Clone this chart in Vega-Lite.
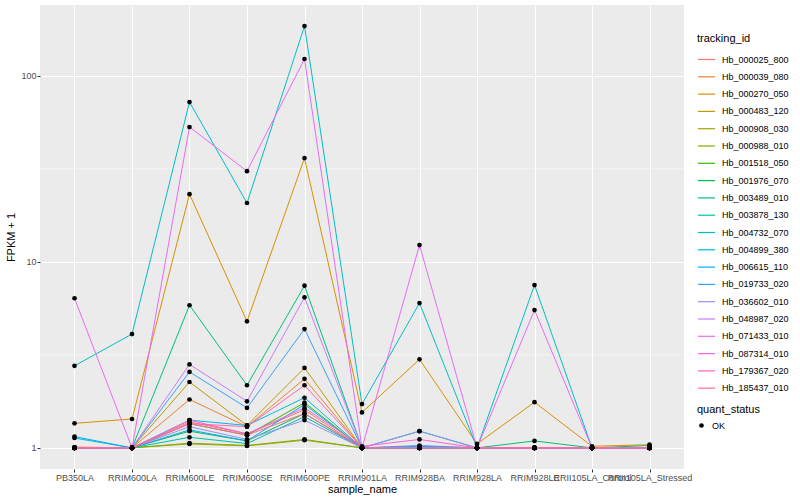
{
"$schema": "https://vega.github.io/schema/vega-lite/v6.json",
"width": 644, "height": 464,
"autosize": "none",
"padding": {"left": 40, "top": 5, "right": 116, "bottom": 31},
"datasets": {
"grid": [{"minor": 3.1623}, {"minor": 31.623}],
"expr": [
{"tracking_id":"Hb_000025_800","sample_name":"PB350LA","fpkm":1.0,"quant_status":"OK"},
{"tracking_id":"Hb_000025_800","sample_name":"RRIM600LA","fpkm":1.0,"quant_status":"OK"},
{"tracking_id":"Hb_000025_800","sample_name":"RRIM600LE","fpkm":1.38,"quant_status":"OK"},
{"tracking_id":"Hb_000025_800","sample_name":"RRIM600SE","fpkm":1.19,"quant_status":"OK"},
{"tracking_id":"Hb_000025_800","sample_name":"RRIM600PE","fpkm":1.6,"quant_status":"OK"},
{"tracking_id":"Hb_000025_800","sample_name":"RRIM901LA","fpkm":1.0,"quant_status":"OK"},
{"tracking_id":"Hb_000025_800","sample_name":"RRIM928BA","fpkm":1.0,"quant_status":"OK"},
{"tracking_id":"Hb_000025_800","sample_name":"RRIM928LA","fpkm":1.0,"quant_status":"OK"},
{"tracking_id":"Hb_000025_800","sample_name":"RRIM928LE","fpkm":1.0,"quant_status":"OK"},
{"tracking_id":"Hb_000025_800","sample_name":"RRII105LA_Control","fpkm":1.0,"quant_status":"OK"},
{"tracking_id":"Hb_000025_800","sample_name":"RRII105LA_Stressed","fpkm":1.0,"quant_status":"OK"},
{"tracking_id":"Hb_000039_080","sample_name":"PB350LA","fpkm":1.01,"quant_status":"OK"},
{"tracking_id":"Hb_000039_080","sample_name":"RRIM600LA","fpkm":1.0,"quant_status":"OK"},
{"tracking_id":"Hb_000039_080","sample_name":"RRIM600LE","fpkm":1.82,"quant_status":"OK"},
{"tracking_id":"Hb_000039_080","sample_name":"RRIM600SE","fpkm":1.3,"quant_status":"OK"},
{"tracking_id":"Hb_000039_080","sample_name":"RRIM600PE","fpkm":2.35,"quant_status":"OK"},
{"tracking_id":"Hb_000039_080","sample_name":"RRIM901LA","fpkm":1.0,"quant_status":"OK"},
{"tracking_id":"Hb_000039_080","sample_name":"RRIM928BA","fpkm":1.0,"quant_status":"OK"},
{"tracking_id":"Hb_000039_080","sample_name":"RRIM928LA","fpkm":1.0,"quant_status":"OK"},
{"tracking_id":"Hb_000039_080","sample_name":"RRIM928LE","fpkm":1.0,"quant_status":"OK"},
{"tracking_id":"Hb_000039_080","sample_name":"RRII105LA_Control","fpkm":1.0,"quant_status":"OK"},
{"tracking_id":"Hb_000039_080","sample_name":"RRII105LA_Stressed","fpkm":1.0,"quant_status":"OK"},
{"tracking_id":"Hb_000270_050","sample_name":"PB350LA","fpkm":1.355,"quant_status":"OK"},
{"tracking_id":"Hb_000270_050","sample_name":"RRIM600LA","fpkm":1.43,"quant_status":"OK"},
{"tracking_id":"Hb_000270_050","sample_name":"RRIM600LE","fpkm":23.1,"quant_status":"OK"},
{"tracking_id":"Hb_000270_050","sample_name":"RRIM600SE","fpkm":4.79,"quant_status":"OK"},
{"tracking_id":"Hb_000270_050","sample_name":"RRIM600PE","fpkm":36.1,"quant_status":"OK"},
{"tracking_id":"Hb_000270_050","sample_name":"RRIM901LA","fpkm":1.55,"quant_status":"OK"},
{"tracking_id":"Hb_000270_050","sample_name":"RRIM928BA","fpkm":2.99,"quant_status":"OK"},
{"tracking_id":"Hb_000270_050","sample_name":"RRIM928LA","fpkm":1.05,"quant_status":"OK"},
{"tracking_id":"Hb_000270_050","sample_name":"RRIM928LE","fpkm":1.76,"quant_status":"OK"},
{"tracking_id":"Hb_000270_050","sample_name":"RRII105LA_Control","fpkm":1.02,"quant_status":"OK"},
{"tracking_id":"Hb_000270_050","sample_name":"RRII105LA_Stressed","fpkm":1.04,"quant_status":"OK"},
{"tracking_id":"Hb_000483_120","sample_name":"PB350LA","fpkm":1.0,"quant_status":"OK"},
{"tracking_id":"Hb_000483_120","sample_name":"RRIM600LA","fpkm":1.0,"quant_status":"OK"},
{"tracking_id":"Hb_000483_120","sample_name":"RRIM600LE","fpkm":2.26,"quant_status":"OK"},
{"tracking_id":"Hb_000483_120","sample_name":"RRIM600SE","fpkm":1.32,"quant_status":"OK"},
{"tracking_id":"Hb_000483_120","sample_name":"RRIM600PE","fpkm":2.69,"quant_status":"OK"},
{"tracking_id":"Hb_000483_120","sample_name":"RRIM901LA","fpkm":1.0,"quant_status":"OK"},
{"tracking_id":"Hb_000483_120","sample_name":"RRIM928BA","fpkm":1.0,"quant_status":"OK"},
{"tracking_id":"Hb_000483_120","sample_name":"RRIM928LA","fpkm":1.0,"quant_status":"OK"},
{"tracking_id":"Hb_000483_120","sample_name":"RRIM928LE","fpkm":1.0,"quant_status":"OK"},
{"tracking_id":"Hb_000483_120","sample_name":"RRII105LA_Control","fpkm":1.0,"quant_status":"OK"},
{"tracking_id":"Hb_000483_120","sample_name":"RRII105LA_Stressed","fpkm":1.0,"quant_status":"OK"},
{"tracking_id":"Hb_000908_030","sample_name":"PB350LA","fpkm":1.0,"quant_status":"OK"},
{"tracking_id":"Hb_000908_030","sample_name":"RRIM600LA","fpkm":1.0,"quant_status":"OK"},
{"tracking_id":"Hb_000908_030","sample_name":"RRIM600LE","fpkm":1.05,"quant_status":"OK"},
{"tracking_id":"Hb_000908_030","sample_name":"RRIM600SE","fpkm":1.025,"quant_status":"OK"},
{"tracking_id":"Hb_000908_030","sample_name":"RRIM600PE","fpkm":1.1,"quant_status":"OK"},
{"tracking_id":"Hb_000908_030","sample_name":"RRIM901LA","fpkm":1.0,"quant_status":"OK"},
{"tracking_id":"Hb_000908_030","sample_name":"RRIM928BA","fpkm":1.0,"quant_status":"OK"},
{"tracking_id":"Hb_000908_030","sample_name":"RRIM928LA","fpkm":1.0,"quant_status":"OK"},
{"tracking_id":"Hb_000908_030","sample_name":"RRIM928LE","fpkm":1.0,"quant_status":"OK"},
{"tracking_id":"Hb_000908_030","sample_name":"RRII105LA_Control","fpkm":1.0,"quant_status":"OK"},
{"tracking_id":"Hb_000908_030","sample_name":"RRII105LA_Stressed","fpkm":1.0,"quant_status":"OK"},
{"tracking_id":"Hb_000988_010","sample_name":"PB350LA","fpkm":1.0,"quant_status":"OK"},
{"tracking_id":"Hb_000988_010","sample_name":"RRIM600LA","fpkm":1.0,"quant_status":"OK"},
{"tracking_id":"Hb_000988_010","sample_name":"RRIM600LE","fpkm":1.06,"quant_status":"OK"},
{"tracking_id":"Hb_000988_010","sample_name":"RRIM600SE","fpkm":1.03,"quant_status":"OK"},
{"tracking_id":"Hb_000988_010","sample_name":"RRIM600PE","fpkm":1.11,"quant_status":"OK"},
{"tracking_id":"Hb_000988_010","sample_name":"RRIM901LA","fpkm":1.0,"quant_status":"OK"},
{"tracking_id":"Hb_000988_010","sample_name":"RRIM928BA","fpkm":1.0,"quant_status":"OK"},
{"tracking_id":"Hb_000988_010","sample_name":"RRIM928LA","fpkm":1.0,"quant_status":"OK"},
{"tracking_id":"Hb_000988_010","sample_name":"RRIM928LE","fpkm":1.0,"quant_status":"OK"},
{"tracking_id":"Hb_000988_010","sample_name":"RRII105LA_Control","fpkm":1.0,"quant_status":"OK"},
{"tracking_id":"Hb_000988_010","sample_name":"RRII105LA_Stressed","fpkm":1.0,"quant_status":"OK"},
{"tracking_id":"Hb_001518_050","sample_name":"PB350LA","fpkm":1.0,"quant_status":"OK"},
{"tracking_id":"Hb_001518_050","sample_name":"RRIM600LA","fpkm":1.0,"quant_status":"OK"},
{"tracking_id":"Hb_001518_050","sample_name":"RRIM600LE","fpkm":1.35,"quant_status":"OK"},
{"tracking_id":"Hb_001518_050","sample_name":"RRIM600SE","fpkm":1.17,"quant_status":"OK"},
{"tracking_id":"Hb_001518_050","sample_name":"RRIM600PE","fpkm":1.75,"quant_status":"OK"},
{"tracking_id":"Hb_001518_050","sample_name":"RRIM901LA","fpkm":1.0,"quant_status":"OK"},
{"tracking_id":"Hb_001518_050","sample_name":"RRIM928BA","fpkm":1.0,"quant_status":"OK"},
{"tracking_id":"Hb_001518_050","sample_name":"RRIM928LA","fpkm":1.0,"quant_status":"OK"},
{"tracking_id":"Hb_001518_050","sample_name":"RRIM928LE","fpkm":1.0,"quant_status":"OK"},
{"tracking_id":"Hb_001518_050","sample_name":"RRII105LA_Control","fpkm":1.0,"quant_status":"OK"},
{"tracking_id":"Hb_001518_050","sample_name":"RRII105LA_Stressed","fpkm":1.0,"quant_status":"OK"},
{"tracking_id":"Hb_001976_070","sample_name":"PB350LA","fpkm":1.0,"quant_status":"OK"},
{"tracking_id":"Hb_001976_070","sample_name":"RRIM600LA","fpkm":1.0,"quant_status":"OK"},
{"tracking_id":"Hb_001976_070","sample_name":"RRIM600LE","fpkm":1.23,"quant_status":"OK"},
{"tracking_id":"Hb_001976_070","sample_name":"RRIM600SE","fpkm":1.09,"quant_status":"OK"},
{"tracking_id":"Hb_001976_070","sample_name":"RRIM600PE","fpkm":1.53,"quant_status":"OK"},
{"tracking_id":"Hb_001976_070","sample_name":"RRIM901LA","fpkm":1.0,"quant_status":"OK"},
{"tracking_id":"Hb_001976_070","sample_name":"RRIM928BA","fpkm":1.0,"quant_status":"OK"},
{"tracking_id":"Hb_001976_070","sample_name":"RRIM928LA","fpkm":1.0,"quant_status":"OK"},
{"tracking_id":"Hb_001976_070","sample_name":"RRIM928LE","fpkm":1.0,"quant_status":"OK"},
{"tracking_id":"Hb_001976_070","sample_name":"RRII105LA_Control","fpkm":1.0,"quant_status":"OK"},
{"tracking_id":"Hb_001976_070","sample_name":"RRII105LA_Stressed","fpkm":1.0,"quant_status":"OK"},
{"tracking_id":"Hb_003489_010","sample_name":"PB350LA","fpkm":1.0,"quant_status":"OK"},
{"tracking_id":"Hb_003489_010","sample_name":"RRIM600LA","fpkm":1.0,"quant_status":"OK"},
{"tracking_id":"Hb_003489_010","sample_name":"RRIM600LE","fpkm":5.84,"quant_status":"OK"},
{"tracking_id":"Hb_003489_010","sample_name":"RRIM600SE","fpkm":2.17,"quant_status":"OK"},
{"tracking_id":"Hb_003489_010","sample_name":"RRIM600PE","fpkm":7.44,"quant_status":"OK"},
{"tracking_id":"Hb_003489_010","sample_name":"RRIM901LA","fpkm":1.0,"quant_status":"OK"},
{"tracking_id":"Hb_003489_010","sample_name":"RRIM928BA","fpkm":1.23,"quant_status":"OK"},
{"tracking_id":"Hb_003489_010","sample_name":"RRIM928LA","fpkm":1.0,"quant_status":"OK"},
{"tracking_id":"Hb_003489_010","sample_name":"RRIM928LE","fpkm":1.09,"quant_status":"OK"},
{"tracking_id":"Hb_003489_010","sample_name":"RRII105LA_Control","fpkm":1.0,"quant_status":"OK"},
{"tracking_id":"Hb_003489_010","sample_name":"RRII105LA_Stressed","fpkm":1.03,"quant_status":"OK"},
{"tracking_id":"Hb_003878_130","sample_name":"PB350LA","fpkm":1.0,"quant_status":"OK"},
{"tracking_id":"Hb_003878_130","sample_name":"RRIM600LA","fpkm":1.0,"quant_status":"OK"},
{"tracking_id":"Hb_003878_130","sample_name":"RRIM600LE","fpkm":1.14,"quant_status":"OK"},
{"tracking_id":"Hb_003878_130","sample_name":"RRIM600SE","fpkm":1.055,"quant_status":"OK"},
{"tracking_id":"Hb_003878_130","sample_name":"RRIM600PE","fpkm":1.47,"quant_status":"OK"},
{"tracking_id":"Hb_003878_130","sample_name":"RRIM901LA","fpkm":1.0,"quant_status":"OK"},
{"tracking_id":"Hb_003878_130","sample_name":"RRIM928BA","fpkm":1.0,"quant_status":"OK"},
{"tracking_id":"Hb_003878_130","sample_name":"RRIM928LA","fpkm":1.0,"quant_status":"OK"},
{"tracking_id":"Hb_003878_130","sample_name":"RRIM928LE","fpkm":1.0,"quant_status":"OK"},
{"tracking_id":"Hb_003878_130","sample_name":"RRII105LA_Control","fpkm":1.0,"quant_status":"OK"},
{"tracking_id":"Hb_003878_130","sample_name":"RRII105LA_Stressed","fpkm":1.0,"quant_status":"OK"},
{"tracking_id":"Hb_004732_070","sample_name":"PB350LA","fpkm":2.76,"quant_status":"OK"},
{"tracking_id":"Hb_004732_070","sample_name":"RRIM600LA","fpkm":4.09,"quant_status":"OK"},
{"tracking_id":"Hb_004732_070","sample_name":"RRIM600LE","fpkm":72.2,"quant_status":"OK"},
{"tracking_id":"Hb_004732_070","sample_name":"RRIM600SE","fpkm":20.7,"quant_status":"OK"},
{"tracking_id":"Hb_004732_070","sample_name":"RRIM600PE","fpkm":185,"quant_status":"OK"},
{"tracking_id":"Hb_004732_070","sample_name":"RRIM901LA","fpkm":1.72,"quant_status":"OK"},
{"tracking_id":"Hb_004732_070","sample_name":"RRIM928BA","fpkm":6.0,"quant_status":"OK"},
{"tracking_id":"Hb_004732_070","sample_name":"RRIM928LA","fpkm":1.0,"quant_status":"OK"},
{"tracking_id":"Hb_004732_070","sample_name":"RRIM928LE","fpkm":7.5,"quant_status":"OK"},
{"tracking_id":"Hb_004732_070","sample_name":"RRII105LA_Control","fpkm":1.0,"quant_status":"OK"},
{"tracking_id":"Hb_004732_070","sample_name":"RRII105LA_Stressed","fpkm":1.0,"quant_status":"OK"},
{"tracking_id":"Hb_004899_380","sample_name":"PB350LA","fpkm":1.13,"quant_status":"OK"},
{"tracking_id":"Hb_004899_380","sample_name":"RRIM600LA","fpkm":1.0,"quant_status":"OK"},
{"tracking_id":"Hb_004899_380","sample_name":"RRIM600LE","fpkm":1.41,"quant_status":"OK"},
{"tracking_id":"Hb_004899_380","sample_name":"RRIM600SE","fpkm":1.32,"quant_status":"OK"},
{"tracking_id":"Hb_004899_380","sample_name":"RRIM600PE","fpkm":1.86,"quant_status":"OK"},
{"tracking_id":"Hb_004899_380","sample_name":"RRIM901LA","fpkm":1.0,"quant_status":"OK"},
{"tracking_id":"Hb_004899_380","sample_name":"RRIM928BA","fpkm":1.0,"quant_status":"OK"},
{"tracking_id":"Hb_004899_380","sample_name":"RRIM928LA","fpkm":1.0,"quant_status":"OK"},
{"tracking_id":"Hb_004899_380","sample_name":"RRIM928LE","fpkm":1.0,"quant_status":"OK"},
{"tracking_id":"Hb_004899_380","sample_name":"RRII105LA_Control","fpkm":1.0,"quant_status":"OK"},
{"tracking_id":"Hb_004899_380","sample_name":"RRII105LA_Stressed","fpkm":1.0,"quant_status":"OK"},
{"tracking_id":"Hb_006615_110","sample_name":"PB350LA","fpkm":1.15,"quant_status":"OK"},
{"tracking_id":"Hb_006615_110","sample_name":"RRIM600LA","fpkm":1.0,"quant_status":"OK"},
{"tracking_id":"Hb_006615_110","sample_name":"RRIM600LE","fpkm":1.25,"quant_status":"OK"},
{"tracking_id":"Hb_006615_110","sample_name":"RRIM600SE","fpkm":1.09,"quant_status":"OK"},
{"tracking_id":"Hb_006615_110","sample_name":"RRIM600PE","fpkm":1.71,"quant_status":"OK"},
{"tracking_id":"Hb_006615_110","sample_name":"RRIM901LA","fpkm":1.0,"quant_status":"OK"},
{"tracking_id":"Hb_006615_110","sample_name":"RRIM928BA","fpkm":1.02,"quant_status":"OK"},
{"tracking_id":"Hb_006615_110","sample_name":"RRIM928LA","fpkm":1.0,"quant_status":"OK"},
{"tracking_id":"Hb_006615_110","sample_name":"RRIM928LE","fpkm":1.0,"quant_status":"OK"},
{"tracking_id":"Hb_006615_110","sample_name":"RRII105LA_Control","fpkm":1.0,"quant_status":"OK"},
{"tracking_id":"Hb_006615_110","sample_name":"RRII105LA_Stressed","fpkm":1.0,"quant_status":"OK"},
{"tracking_id":"Hb_019733_020","sample_name":"PB350LA","fpkm":1.0,"quant_status":"OK"},
{"tracking_id":"Hb_019733_020","sample_name":"RRIM600LA","fpkm":1.0,"quant_status":"OK"},
{"tracking_id":"Hb_019733_020","sample_name":"RRIM600LE","fpkm":2.56,"quant_status":"OK"},
{"tracking_id":"Hb_019733_020","sample_name":"RRIM600SE","fpkm":1.64,"quant_status":"OK"},
{"tracking_id":"Hb_019733_020","sample_name":"RRIM600PE","fpkm":4.35,"quant_status":"OK"},
{"tracking_id":"Hb_019733_020","sample_name":"RRIM901LA","fpkm":1.0,"quant_status":"OK"},
{"tracking_id":"Hb_019733_020","sample_name":"RRIM928BA","fpkm":1.03,"quant_status":"OK"},
{"tracking_id":"Hb_019733_020","sample_name":"RRIM928LA","fpkm":1.0,"quant_status":"OK"},
{"tracking_id":"Hb_019733_020","sample_name":"RRIM928LE","fpkm":1.0,"quant_status":"OK"},
{"tracking_id":"Hb_019733_020","sample_name":"RRII105LA_Control","fpkm":1.0,"quant_status":"OK"},
{"tracking_id":"Hb_019733_020","sample_name":"RRII105LA_Stressed","fpkm":1.0,"quant_status":"OK"},
{"tracking_id":"Hb_036602_010","sample_name":"PB350LA","fpkm":1.0,"quant_status":"OK"},
{"tracking_id":"Hb_036602_010","sample_name":"RRIM600LA","fpkm":1.0,"quant_status":"OK"},
{"tracking_id":"Hb_036602_010","sample_name":"RRIM600LE","fpkm":1.3,"quant_status":"OK"},
{"tracking_id":"Hb_036602_010","sample_name":"RRIM600SE","fpkm":1.11,"quant_status":"OK"},
{"tracking_id":"Hb_036602_010","sample_name":"RRIM600PE","fpkm":1.41,"quant_status":"OK"},
{"tracking_id":"Hb_036602_010","sample_name":"RRIM901LA","fpkm":1.0,"quant_status":"OK"},
{"tracking_id":"Hb_036602_010","sample_name":"RRIM928BA","fpkm":1.23,"quant_status":"OK"},
{"tracking_id":"Hb_036602_010","sample_name":"RRIM928LA","fpkm":1.0,"quant_status":"OK"},
{"tracking_id":"Hb_036602_010","sample_name":"RRIM928LE","fpkm":1.0,"quant_status":"OK"},
{"tracking_id":"Hb_036602_010","sample_name":"RRII105LA_Control","fpkm":1.0,"quant_status":"OK"},
{"tracking_id":"Hb_036602_010","sample_name":"RRII105LA_Stressed","fpkm":1.0,"quant_status":"OK"},
{"tracking_id":"Hb_048987_020","sample_name":"PB350LA","fpkm":1.0,"quant_status":"OK"},
{"tracking_id":"Hb_048987_020","sample_name":"RRIM600LA","fpkm":1.0,"quant_status":"OK"},
{"tracking_id":"Hb_048987_020","sample_name":"RRIM600LE","fpkm":2.81,"quant_status":"OK"},
{"tracking_id":"Hb_048987_020","sample_name":"RRIM600SE","fpkm":1.78,"quant_status":"OK"},
{"tracking_id":"Hb_048987_020","sample_name":"RRIM600PE","fpkm":6.44,"quant_status":"OK"},
{"tracking_id":"Hb_048987_020","sample_name":"RRIM901LA","fpkm":1.0,"quant_status":"OK"},
{"tracking_id":"Hb_048987_020","sample_name":"RRIM928BA","fpkm":1.0,"quant_status":"OK"},
{"tracking_id":"Hb_048987_020","sample_name":"RRIM928LA","fpkm":1.0,"quant_status":"OK"},
{"tracking_id":"Hb_048987_020","sample_name":"RRIM928LE","fpkm":1.0,"quant_status":"OK"},
{"tracking_id":"Hb_048987_020","sample_name":"RRII105LA_Control","fpkm":1.0,"quant_status":"OK"},
{"tracking_id":"Hb_048987_020","sample_name":"RRII105LA_Stressed","fpkm":1.0,"quant_status":"OK"},
{"tracking_id":"Hb_071433_010","sample_name":"PB350LA","fpkm":6.37,"quant_status":"OK"},
{"tracking_id":"Hb_071433_010","sample_name":"RRIM600LA","fpkm":1.0,"quant_status":"OK"},
{"tracking_id":"Hb_071433_010","sample_name":"RRIM600LE","fpkm":53,"quant_status":"OK"},
{"tracking_id":"Hb_071433_010","sample_name":"RRIM600SE","fpkm":30.7,"quant_status":"OK"},
{"tracking_id":"Hb_071433_010","sample_name":"RRIM600PE","fpkm":123,"quant_status":"OK"},
{"tracking_id":"Hb_071433_010","sample_name":"RRIM901LA","fpkm":1.0,"quant_status":"OK"},
{"tracking_id":"Hb_071433_010","sample_name":"RRIM928BA","fpkm":12.3,"quant_status":"OK"},
{"tracking_id":"Hb_071433_010","sample_name":"RRIM928LA","fpkm":1.0,"quant_status":"OK"},
{"tracking_id":"Hb_071433_010","sample_name":"RRIM928LE","fpkm":5.5,"quant_status":"OK"},
{"tracking_id":"Hb_071433_010","sample_name":"RRII105LA_Control","fpkm":1.0,"quant_status":"OK"},
{"tracking_id":"Hb_071433_010","sample_name":"RRII105LA_Stressed","fpkm":1.0,"quant_status":"OK"},
{"tracking_id":"Hb_087314_010","sample_name":"PB350LA","fpkm":1.0,"quant_status":"OK"},
{"tracking_id":"Hb_087314_010","sample_name":"RRIM600LA","fpkm":1.0,"quant_status":"OK"},
{"tracking_id":"Hb_087314_010","sample_name":"RRIM600LE","fpkm":1.41,"quant_status":"OK"},
{"tracking_id":"Hb_087314_010","sample_name":"RRIM600SE","fpkm":1.19,"quant_status":"OK"},
{"tracking_id":"Hb_087314_010","sample_name":"RRIM600PE","fpkm":1.64,"quant_status":"OK"},
{"tracking_id":"Hb_087314_010","sample_name":"RRIM901LA","fpkm":1.02,"quant_status":"OK"},
{"tracking_id":"Hb_087314_010","sample_name":"RRIM928BA","fpkm":1.11,"quant_status":"OK"},
{"tracking_id":"Hb_087314_010","sample_name":"RRIM928LA","fpkm":1.0,"quant_status":"OK"},
{"tracking_id":"Hb_087314_010","sample_name":"RRIM928LE","fpkm":1.0,"quant_status":"OK"},
{"tracking_id":"Hb_087314_010","sample_name":"RRII105LA_Control","fpkm":1.0,"quant_status":"OK"},
{"tracking_id":"Hb_087314_010","sample_name":"RRII105LA_Stressed","fpkm":1.0,"quant_status":"OK"},
{"tracking_id":"Hb_179367_020","sample_name":"PB350LA","fpkm":1.0,"quant_status":"OK"},
{"tracking_id":"Hb_179367_020","sample_name":"RRIM600LA","fpkm":1.0,"quant_status":"OK"},
{"tracking_id":"Hb_179367_020","sample_name":"RRIM600LE","fpkm":1.35,"quant_status":"OK"},
{"tracking_id":"Hb_179367_020","sample_name":"RRIM600SE","fpkm":1.3,"quant_status":"OK"},
{"tracking_id":"Hb_179367_020","sample_name":"RRIM600PE","fpkm":2.17,"quant_status":"OK"},
{"tracking_id":"Hb_179367_020","sample_name":"RRIM901LA","fpkm":1.0,"quant_status":"OK"},
{"tracking_id":"Hb_179367_020","sample_name":"RRIM928BA","fpkm":1.0,"quant_status":"OK"},
{"tracking_id":"Hb_179367_020","sample_name":"RRIM928LA","fpkm":1.0,"quant_status":"OK"},
{"tracking_id":"Hb_179367_020","sample_name":"RRIM928LE","fpkm":1.0,"quant_status":"OK"},
{"tracking_id":"Hb_179367_020","sample_name":"RRII105LA_Control","fpkm":1.0,"quant_status":"OK"},
{"tracking_id":"Hb_179367_020","sample_name":"RRII105LA_Stressed","fpkm":1.0,"quant_status":"OK"},
{"tracking_id":"Hb_185437_010","sample_name":"PB350LA","fpkm":1.0,"quant_status":"OK"},
{"tracking_id":"Hb_185437_010","sample_name":"RRIM600LA","fpkm":1.0,"quant_status":"OK"},
{"tracking_id":"Hb_185437_010","sample_name":"RRIM600LE","fpkm":1.35,"quant_status":"OK"},
{"tracking_id":"Hb_185437_010","sample_name":"RRIM600SE","fpkm":1.17,"quant_status":"OK"},
{"tracking_id":"Hb_185437_010","sample_name":"RRIM600PE","fpkm":1.53,"quant_status":"OK"},
{"tracking_id":"Hb_185437_010","sample_name":"RRIM901LA","fpkm":1.0,"quant_status":"OK"},
{"tracking_id":"Hb_185437_010","sample_name":"RRIM928BA","fpkm":1.0,"quant_status":"OK"},
{"tracking_id":"Hb_185437_010","sample_name":"RRIM928LA","fpkm":1.0,"quant_status":"OK"},
{"tracking_id":"Hb_185437_010","sample_name":"RRIM928LE","fpkm":1.0,"quant_status":"OK"},
{"tracking_id":"Hb_185437_010","sample_name":"RRII105LA_Control","fpkm":1.0,"quant_status":"OK"},
{"tracking_id":"Hb_185437_010","sample_name":"RRII105LA_Stressed","fpkm":1.0,"quant_status":"OK"}
]
},
"layer": [
{
"data": {"name": "grid"},
"mark": {"type": "rule", "color": "white", "strokeWidth": 0.5},
"encoding": {"y": {"field": "minor", "type": "quantitative", "scale": {"type": "log", "domain": [0.77, 240], "nice": false, "zero": false}}}
},
{
"data": {"name": "expr"},
"mark": {"type": "line", "strokeWidth": 1},
"encoding": {
"x": {"field": "sample_name", "type": "nominal", "sort": ["PB350LA","RRIM600LA","RRIM600LE","RRIM600SE","RRIM600PE","RRIM901LA","RRIM928BA","RRIM928LA","RRIM928LE","RRII105LA_Control","RRII105LA_Stressed"], "scale": {"type": "point", "padding": 0.6}, "title": "sample_name", "axis": {"labelAngle": 0}},
"y": {"field": "fpkm", "type": "quantitative", "scale": {"type": "log", "domain": [0.77, 240], "nice": false, "zero": false}, "title": "FPKM + 1", "axis": {"values": [1, 10, 100], "format": "d"}},
"color": {"field": "tracking_id", "type": "nominal", "title": "tracking_id",
"scale": {"range": ["#F8766D","#EA8331","#D89000","#C09B00","#A3A500","#7CAE00","#39B600","#00BB4E","#00BF7D","#00C1A3","#00BFC4","#00BAE0","#00B0F6","#35A2FF","#9590FF","#C77CFF","#E76BF3","#FA62DB","#FF62BC","#FF6C91"]},
"legend": {"orient": "none", "legendX": 657, "legendY": 28, "symbolType": "stroke", "symbolSize": 289, "symbolStrokeWidth": 1.2, "rowPadding": 2.3}}
}
},
{
"data": {"name": "expr"},
"mark": {"type": "point", "filled": true, "color": "black", "opacity": 1, "size": 22},
"encoding": {
"x": {"field": "sample_name", "type": "nominal", "sort": ["PB350LA","RRIM600LA","RRIM600LE","RRIM600SE","RRIM600PE","RRIM901LA","RRIM928BA","RRIM928LA","RRIM928LE","RRII105LA_Control","RRII105LA_Stressed"]},
"y": {"field": "fpkm", "type": "quantitative"},
"shape": {"field": "quant_status", "type": "nominal", "title": "quant_status", "scale": {"range": ["circle"]},
"legend": {"orient": "none", "legendX": 657, "legendY": 399, "symbolSize": 22, "symbolFillColor": "black", "symbolStrokeColor": "black"}}
}
}
],
"config": {
"font": "Liberation Sans",
"view": {"fill": "#EBEBEB", "stroke": null},
"axis": {"grid": true, "gridColor": "white", "gridWidth": 1, "domain": false, "tickColor": "#333333", "tickSize": 3, "labelColor": "#4D4D4D", "labelFontSize": 9, "labelPadding": 1, "titleFontSize": 11, "titleFontWeight": "normal", "titleColor": "black", "labelOverlap": false, "labelBound": false, "labelFlush": false},
"axisX": {"titlePadding": 1},
"axisY": {"titlePadding": 4},
"legend": {"titleFontSize": 11, "titleFontWeight": "normal", "titleColor": "black", "labelFontSize": 9, "labelColor": "black", "labelOffset": 6, "titlePadding": 6}
}
}
